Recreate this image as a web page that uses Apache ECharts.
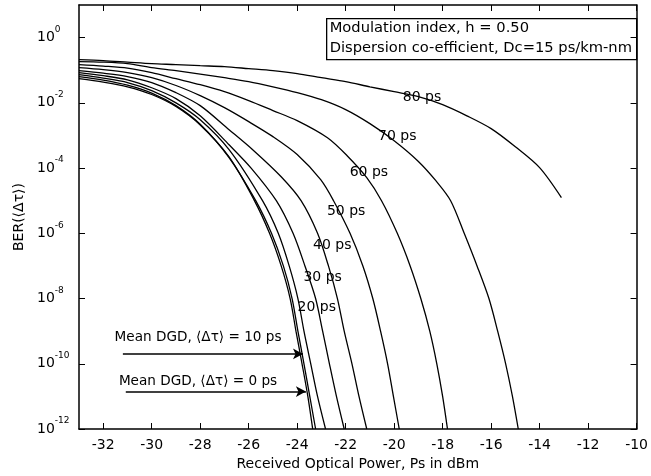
<!DOCTYPE html>
<html>
<head>
<meta charset="utf-8">
<script src="https://cdn.jsdelivr.net/npm/echarts@6/dist/echarts.min.js"></script>
<style>
  html, body { margin: 0; padding: 0; background: #fff; }
  #main { width: 651px; height: 476px; }
</style>
</head>
<body>
<div id="main"></div>
<script>
// received optical power (dBm) and BER, by mean DGD
const power0 = [-33, -32, -31, -30, -29, -28, -26.81, -25.79, -25.14, -24.66, -24.29, -24.05, -23.80, -23.56, -23.36];
const ber0 = [5.5e-2, 4.3e-2, 3.1e-2, 1.8e-2, 7.7e-3, 2.1e-3, 2.2e-4, 1.1e-5, 1e-6, 1e-7, 1e-8, 1e-9, 1e-10, 1e-11, 1e-12];

const power10 = [-33, -32, -31, -30, -29, -28, -26.81, -25.71, -25.06, -24.57, -24.21, -23.97, -23.72, -23.48, -23.24];
const ber10 = [6.4e-2, 5.0e-2, 3.5e-2, 2.0e-2, 8.2e-3, 2.2e-3, 2.1e-4, 1e-5, 1e-6, 1e-7, 1e-8, 1e-9, 1e-10, 1e-11, 1e-12];

const power20 = [-33, -32, -31, -30, -29, -28, -26.81, -25.43, -24.78, -24.33, -23.97, -23.72, -23.44, -23.16, -22.83];
const ber20 = [7.3e-2, 5.7e-2, 4.2e-2, 2.37e-2, 1.0e-2, 3.05e-3, 3.7e-4, 1e-5, 1e-6, 1e-7, 1e-8, 1e-9, 1e-10, 1e-11, 1e-12];

const power30 = [-33, -32, -31, -30, -29, -28, -26.81, -25.90, -24.86, -24.17, -23.68, -23.24, -22.95, -22.67, -22.38, -22.06];
const ber30 = [8.4e-2, 6.8e-2, 5.1e-2, 2.9e-2, 1.35e-2, 4.0e-3, 5.2e-4, 1e-4, 1e-5, 1e-6, 1e-7, 1e-8, 1e-9, 1e-10, 1e-11, 1e-12];

const power40 = [-33, -32, -31, -30, -29, -28, -26.81, -25.79, -24.66, -23.84, -23.16, -22.71, -22.34, -22.06, -21.74, -21.45, -21.13];
const ber40 = [9.7e-2, 8.1e-2, 6.4e-2, 4.2e-2, 2.06e-2, 8.2e-3, 1.5e-3, 3.4e-4, 5.4e-5, 1e-5, 1e-6, 1e-7, 1e-8, 1e-9, 1e-10, 1e-11, 1e-12];

const power50 = [-33, -32, -31, -30, -29, -28, -27, -26, -25, -24, -23.03, -22.50, -21.82, -21.29, -20.88, -20.56, -20.27, -20.03, -19.79];
const ber50 = [1.2e-1, 1.04e-1, 8.4e-2, 5.9e-2, 3.4e-2, 1.66e-2, 7.1e-3, 2.65e-3, 9.2e-4, 2.6e-4, 4.4e-5, 1e-5, 1e-6, 1e-7, 1e-8, 1e-9, 1e-10, 1e-11, 1e-12];

const power60 = [-33, -32, -31, -30, -29, -28, -27, -26, -25, -24, -22.75, -21.94, -21.13, -20.52, -19.87, -19.34, -18.90, -18.53, -18.24, -18.00, -17.80];
const ber60 = [1.49e-1, 1.34e-1, 1.16e-1, 8.4e-2, 5.5e-2, 3.6e-2, 2.2e-2, 1.17e-2, 5.8e-3, 2.85e-3, 8.5e-4, 2.4e-4, 5.1e-5, 1e-5, 1e-6, 1e-7, 1e-8, 1e-9, 1e-10, 1e-11, 1e-12];

const power70 = [-33, -32, -31, -30, -29, -28, -27, -26, -25, -24, -23, -22, -21, -20, -19, -18.28, -17.67, -17.11, -16.58, -16.09, -15.73, -15.40, -15.12, -14.88];
const ber70 = [1.84e-1, 1.77e-1, 1.59e-1, 1.2e-1, 9.7e-2, 7.6e-2, 5.9e-2, 4.47e-2, 3.1e-2, 2.06e-2, 1.25e-2, 6.2e-3, 2.3e-3, 6.9e-4, 1.6e-4, 4.1e-5, 1e-5, 1e-6, 1e-7, 1e-8, 1e-9, 1e-10, 1e-11, 1e-12];

const power80 = [-33, -32, -31, -30, -29, -28, -27, -26, -25, -24, -23, -22, -21, -20, -19, -18, -17, -16, -15, -14, -13.10];
const ber80 = [2.11e-1, 1.97e-1, 1.77e-1, 1.59e-1, 1.49e-1, 1.38e-1, 1.29e-1, 1.12e-1, 9.7e-2, 7.9e-2, 5.9e-2, 4.47e-2, 3.1e-2, 2.2e-2, 1.55e-2, 8.8e-3, 4.0e-3, 1.62e-3, 4.5e-4, 1.03e-4, 1.24e-5];

const curves = [
  [power0, ber0], [power10, ber10], [power20, ber20], [power30, ber30], [power40, ber40],
  [power50, ber50], [power60, ber60], [power70, ber70], [power80, ber80]
];

// tick labels
const xTicks = [-32, -30, -28, -26, -24, -22, -20, -18, -16, -14, -12, -10];
const yTicks = [1e-12, 1e-10, 1e-8, 1e-6, 1e-4, 1e-2, 1];

// curve labels, written where they sit on the curves
const curveLabelText = ['80 ps', '70 ps', '60 ps', '50 ps', '40 ps', '30 ps', '20 ps'];
const curveLabelPower = [-18.85, -19.87, -21.04, -21.98, -22.55, -22.95, -23.19];
const curveLabelBer = [1.45e-2, 9.1e-4, 7.2e-5, 4.6e-6, 4.2e-7, 4.4e-8, 5.2e-9];

// "Mean DGD" notes and their arrows
const noteText = ['Mean DGD, \u27e8\u0394\u03c4\u27e9 = 10 ps', 'Mean DGD, \u27e8\u0394\u03c4\u27e9 = 0 ps'];
const notePower = [-28.09, -28.09];
const noteBer = [6.3e-10, 2.8e-11];
const arrowFrom = [-31.19, -31.07];
const arrowTo = [-23.76, -23.64];
const arrowBer = [2.0e-10, 1.4e-11];

const font = 'DejaVu Sans';

const chart = echarts.init(document.getElementById('main'));

const series = curves.map(c => ({
  type: 'line',
  data: c[0].map((p, i) => [p, c[1][i]]),
  showSymbol: false,
  smooth: 0.3,
  lineStyle: { color: '#000', width: 1.3 },
  silent: true,
  z: 3
}));

series.push({
  type: 'scatter',
  symbolSize: 0,
  itemStyle: { opacity: 1, color: '#000' },
  data: curveLabelText.map((t, i) => [curveLabelPower[i], curveLabelBer[i], t]),
  label: {
    show: true,
    position: 'inside',
    formatter: p => p.data[2],
    color: '#000',
    fontFamily: font,
    fontSize: 14
  },
  silent: true,
  z: 5
});

series.push({
  type: 'scatter',
  symbolSize: 0,
  itemStyle: { opacity: 1, color: '#000' },
  data: noteText.map((t, i) => [notePower[i], noteBer[i], t]),
  label: {
    show: true,
    position: 'inside',
    formatter: p => p.data[2],
    color: '#000',
    fontFamily: font,
    fontSize: 13.6
  },
  markLine: {
    silent: true,
    symbol: ['none', 'arrow'],
    symbolSize: [8, 10],
    label: { show: false },
    lineStyle: { color: '#000', width: 1.5, type: 'solid' },
    data: arrowBer.map((b, i) => [{ coord: [arrowFrom[i], b] }, { coord: [arrowTo[i], b] }])
  },
  silent: true,
  z: 5
});

const option = {
  animation: false,
  textStyle: { fontFamily: font, color: '#000' },
  grid: { left: 79, right: 7, top: 5, bottom: 47 },
  xAxis: [
    {
      type: 'value',
      min: -33,
      max: -10,
      position: 'bottom',
      name: 'Received Optical Power, Ps in dBm',
      nameLocation: 'middle',
      nameGap: 26,
      nameTextStyle: { fontFamily: font, fontSize: 14, color: '#000' },
      axisLine: { show: true, lineStyle: { color: '#000', width: 1.5 } },
      axisTick: { show: true, inside: true, length: 6, customValues: xTicks, lineStyle: { color: '#000' } },
      axisLabel: { customValues: xTicks, margin: 9, fontFamily: font, fontSize: 14, color: '#000' },
      splitLine: { show: false }
    },
    {
      type: 'value',
      min: -33,
      max: -10,
      position: 'top',
      axisLine: { show: true, lineStyle: { color: '#000', width: 1.5 } },
      axisTick: { show: true, inside: true, length: 6, customValues: xTicks, lineStyle: { color: '#000' } },
      axisLabel: { show: false },
      splitLine: { show: false }
    }
  ],
  yAxis: [
    {
      type: 'log',
      logBase: 10,
      min: 1e-12,
      max: 10,
      position: 'left',
      name: 'BER(\u27e8\u0394\u03c4\u27e9)',
      nameLocation: 'middle',
      nameGap: 44,
      nameRotate: 90,
      nameTextStyle: { fontFamily: font, fontSize: 14, color: '#000' },
      axisLine: { show: true, lineStyle: { color: '#000', width: 1.5 } },
      axisTick: { show: true, inside: true, length: 6, customValues: yTicks, lineStyle: { color: '#000' } },
      axisLabel: {
        customValues: yTicks,
        margin: 42,
        align: 'left',
        formatter: v => '{b|10}{s|' + Math.round(Math.log10(v)) + '}',
        rich: {
          b: { fontFamily: font, fontSize: 14, lineHeight: 14, verticalAlign: 'middle', color: '#000' },
          s: { fontFamily: font, fontSize: 9, lineHeight: 9, padding: [0, 0, 16, 0], color: '#000' }
        }
      },
      splitLine: { show: false }
    },
    {
      type: 'log',
      logBase: 10,
      min: 1e-12,
      max: 10,
      position: 'right',
      axisLine: { show: true, lineStyle: { color: '#000', width: 1.5 } },
      axisTick: { show: true, inside: true, length: 6, customValues: yTicks, lineStyle: { color: '#000' } },
      axisLabel: { show: false },
      splitLine: { show: false }
    }
  ],
  graphic: [
    {
      type: 'group',
      left: 326,
      top: 18,
      children: [
        { type: 'rect', shape: { x: 0, y: 0, width: 310, height: 41 }, style: { fill: '#fff', stroke: '#000', lineWidth: 1.3 } },
        { type: 'text', x: 3, y: 10, style: { text: 'Modulation index, h = 0.50', font: '14.7px "DejaVu Sans"', fill: '#000', textVerticalAlign: 'middle' } },
        { type: 'text', x: 3, y: 30, style: { text: 'Dispersion co-efficient, Dc=15 ps/km-nm', font: '14.7px "DejaVu Sans"', fill: '#000', textVerticalAlign: 'middle' } }
      ],
      z: 10
    }
  ],
  series: series
};

chart.setOption(option);
</script>
</body>
</html>
